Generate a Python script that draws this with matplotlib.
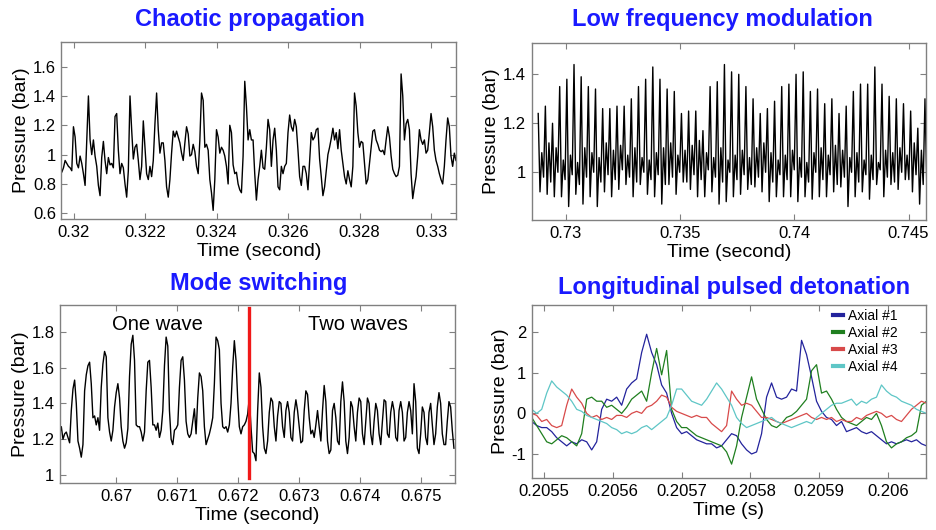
import numpy as np
import matplotlib
matplotlib.use("Agg")
import matplotlib.pyplot as plt
from matplotlib.ticker import FormatStrFormatter

plt.rcParams['font.family'] = ['Liberation Sans', 'DejaVu Sans']

# --- Chaotic propagation: pressure samples (bar) ---
p1_a = [0.94, 0.88, 0.91, 0.96, 0.94, 0.92, 0.91, 0.89, 1.19, 1.12,
        0.94, 0.91, 0.99, 0.94, 0.87, 0.79, 1.10, 1.40, 1.10, 1.00,
        1.10, 0.99, 0.92, 0.79, 0.72, 0.98, 1.09, 0.96, 0.87, 0.98,
        0.93, 0.94, 0.91, 1.26, 1.28, 1.03, 0.87, 0.94, 0.91, 0.80,
        0.71, 0.89, 1.40, 1.17, 0.97, 1.05, 1.07, 0.96, 0.83, 0.92,
        1.23, 1.05, 0.87, 0.83, 0.92, 0.85, 0.96, 1.21, 1.42, 1.17,
        1.01, 1.08, 1.08, 0.96, 0.78, 0.71, 0.83, 1.01, 1.16, 1.12,
        1.16, 1.12, 1.08, 1.01, 0.96, 1.08, 1.19, 1.14, 0.99, 1.00,
        1.07, 1.02, 0.92, 0.87, 1.10, 1.42, 1.37, 1.05, 1.07, 1.03,
        0.83, 0.74, 0.62, 0.83, 1.17, 1.12, 1.01, 1.05, 1.03, 0.99,
        0.92, 0.80, 1.20, 1.15, 0.93, 0.87, 0.88, 0.80, 0.76, 0.74,
        0.99, 1.50, 1.33, 1.10, 1.17, 1.10, 1.10, 0.87]
p1_b = [0.69, 0.83, 0.92, 1.03, 0.91, 0.90, 1.05, 1.24, 1.17, 0.92,
        1.10, 1.18, 1.03, 0.78, 0.76, 0.92, 0.87, 0.92, 0.94, 1.15,
        1.27, 1.19, 1.16, 1.24, 1.19, 1.03, 0.85, 0.79, 0.92, 0.92,
        0.87, 0.76, 0.96, 1.15, 1.10, 1.12, 1.17, 1.18, 0.97, 0.85,
        0.72, 0.78, 0.89, 1.00, 1.05, 1.11, 1.18, 1.10, 1.15, 1.04,
        1.17, 1.03, 0.94, 0.85, 0.80, 0.89, 0.83, 0.78, 0.92, 1.42,
        1.33, 1.15, 1.05, 1.09, 1.08, 0.94, 0.80, 0.83, 0.94, 1.05,
        1.16, 1.17, 1.10, 1.07, 1.03, 1.02, 1.03, 1.00, 1.10, 1.19,
        1.12, 0.99, 0.90, 0.87, 0.85, 0.86, 0.92, 1.55, 1.40, 1.10,
        1.21, 1.24, 1.17, 0.87, 0.70, 0.78, 0.85, 0.99, 1.17, 1.10,
        1.07, 1.10, 1.01, 1.03, 1.15, 1.28, 1.19, 1.03, 0.96, 0.92,
        0.87, 0.83, 0.80, 0.92, 1.10, 1.25, 1.19, 0.99, 0.92, 1.01,
        0.96]
t1_start, t1_end = 0.319622, 0.330699

# --- Low frequency modulation: one spike per cycle ---
p2_peak = [1.24, 1.27, 1.20, 1.35, 1.38, 1.44, 1.39, 1.35, 1.34, 1.26,
           1.26, 1.27, 1.27, 1.30, 1.35, 1.38, 1.43, 1.38, 1.34, 1.33,
           1.24, 1.25, 1.25, 1.17, 1.35, 1.37, 1.44,
           1.41, 1.40, 1.35, 1.30, 1.24, 1.26, 1.29, 1.35, 1.36, 1.40,
           1.41, 1.33, 1.34, 1.28, 1.30, 1.24, 1.27, 1.33, 1.36, 1.36,
           1.43, 1.36, 1.31, 1.30, 1.28, 1.25, 1.18, 1.30]
p2_trough = [0.92, 0.91, 0.90, 0.90, 0.86, 0.91, 0.87, 0.90, 0.86, 0.92,
             0.90, 0.93, 0.95, 0.90, 0.95, 0.91, 0.90, 0.87, 0.95, 0.91,
             0.96, 0.93, 0.90, 0.90, 0.92, 0.87, 0.88,
             0.90, 0.91, 0.93, 0.94, 0.92, 0.88, 0.90, 0.90, 0.90, 0.88,
             0.90, 0.89, 0.90, 0.90, 0.92, 0.94, 0.86, 0.90, 0.92, 0.89,
             0.95, 0.90, 0.95, 0.93, 0.97, 0.92, 0.87, 0.95]
p2_bump = [1.08, 1.12, 1.10, 1.05, 1.07, 1.04, 1.10, 1.08, 1.06, 1.12,
           1.09, 1.11, 1.07, 1.10, 1.06, 1.05, 1.08, 1.10, 1.12, 1.07,
           1.09, 1.11, 1.13, 1.08, 1.06, 1.10, 1.05,
           1.07, 1.09, 1.06, 1.10, 1.12, 1.08, 1.05, 1.07, 1.09, 1.06,
           1.04, 1.08, 1.10, 1.07, 1.11, 1.09, 1.06, 1.08, 1.05, 1.07,
           1.04, 1.09, 1.08, 1.10, 1.07, 1.12, 1.09, 1.15]
p2_dip = [0.98, 0.96, 1.00, 0.97, 0.99, 0.95, 0.98, 1.00, 0.96, 0.99,
          0.97, 1.01, 0.98, 0.96, 1.00, 0.97, 0.99, 0.95, 0.98, 1.00,
          0.96, 0.99, 0.97, 1.01, 0.98, 0.96, 1.00,
          0.97, 0.99, 0.95, 0.98, 1.00, 0.96, 0.99, 0.97, 1.01, 0.98,
          0.96, 1.00, 0.97, 0.99, 0.95, 0.98, 1.00, 0.96, 0.99, 0.97,
          1.01, 0.98, 0.96, 1.00, 0.97, 0.99, 0.95, 0.98]
t2_start, t2_end = 0.728787, 0.745951

# --- Mode switching ---
p3_a = [1.28, 1.23, 1.27, 1.20, 1.23, 1.24, 1.21, 1.18, 1.36, 1.48,
        1.53, 1.40, 1.19, 1.15, 1.10, 1.17, 1.47, 1.56, 1.61, 1.63,
        1.51, 1.32, 1.33, 1.28, 1.32, 1.25, 1.49, 1.62, 1.69, 1.66,
        1.32, 1.24, 1.19, 1.25, 1.38, 1.46, 1.51, 1.43, 1.27, 1.19,
        1.15, 1.18, 1.26, 1.55, 1.73, 1.78, 1.64, 1.28, 1.27, 1.27,
        1.24, 1.19, 1.24, 1.47, 1.63, 1.64, 1.49, 1.28, 1.28, 1.25,
        1.29, 1.21, 1.25, 1.36, 1.61, 1.77, 1.72, 1.36, 1.20, 1.17,
        1.25, 1.26, 1.28, 1.49, 1.64, 1.66, 1.53, 1.30, 1.23, 1.21,
        1.23, 1.30, 1.37, 1.23, 1.43, 1.57, 1.55, 1.47, 1.27, 1.17,
        1.20, 1.23, 1.27, 1.32, 1.51, 1.77, 1.75, 1.70, 1.40, 1.27,
        1.26, 1.27, 1.24, 1.28, 1.40, 1.60, 1.75, 1.64, 1.43, 1.27,
        1.23, 1.27, 1.28, 1.30, 1.34, 1.43, 1.27, 1.13]
p3_b = [1.12, 1.08, 1.36, 1.57, 1.49, 1.27, 1.15, 1.12, 1.19, 1.35,
        1.43, 1.41, 1.27, 1.19, 1.33, 1.41, 1.40, 1.27, 1.21, 1.36,
        1.41, 1.35, 1.21, 1.19, 1.35, 1.42, 1.36, 1.27, 1.18, 1.19,
        1.36, 1.47, 1.45, 1.32, 1.23, 1.25, 1.21, 1.28, 1.36, 1.27,
        1.19, 1.36, 1.50, 1.41, 1.19, 1.12, 1.14, 1.36, 1.40, 1.32,
        1.19, 1.17, 1.41, 1.52, 1.41, 1.19, 1.12, 1.21, 1.41, 1.38,
        1.27, 1.19, 1.35, 1.43, 1.41, 1.23, 1.17, 1.30, 1.43, 1.40,
        1.23, 1.17, 1.30, 1.40, 1.36, 1.23, 1.17, 1.30, 1.42, 1.41,
        1.23, 1.21, 1.35, 1.41, 1.36, 1.21, 1.19, 1.36, 1.41, 1.35,
        1.19, 1.21, 1.35, 1.41, 1.36, 1.23, 1.51, 1.41, 1.15, 1.12,
        1.23, 1.38, 1.35, 1.21, 1.17, 1.35, 1.40, 1.28, 1.17, 1.23,
        1.38, 1.46, 1.40, 1.23, 1.17, 1.17, 1.30, 1.41, 1.38, 1.25,
        1.15]
t3_start, t3_end = 0.669040, 0.675538
switch_time = 0.672174

# --- Longitudinal pulsed detonation (4 axial probes) ---
axial1 = [-0.2, -0.3, -0.35, -0.35, -0.45, -0.6, -0.7, -0.8, -0.7, -0.75,
          -0.65, -0.7, -0.9, -0.7, 0.1, 0.35, 0.3, 0.4, 0.2, 0.6,
          0.75, 0.85, 1.5, 1.95, 1.5, 1.2, 0.7, 0.5, 0.0, -0.35,
          -0.5, -0.45, -0.55, -0.65, -0.7, -0.75, -0.75, -0.85, -0.8, -0.65,
          -0.5, -0.55, -0.75, -0.9, -1.0, -0.95, -0.5, 0.4, 0.75, 0.4,
          0.35, 0.4, 0.6, 0.55, 1.8, 1.45, 0.9, 0.3, 0.05, -0.1,
          -0.15, -0.3, -0.2, -0.45, -0.4, -0.35, -0.45, -0.5, -0.45, -0.55,
          -0.65, -0.75, -0.7, -0.75, -0.7, -0.65, -0.7, -0.65, -0.75, -0.8]
axial2 = [-0.1, -0.3, -0.5, -0.7, -0.75, -0.65, -0.55, -0.6, -0.7, -0.8,
          -0.5, 0.35, 0.4, 0.3, 0.3, 0.15, 0.2, 0.1, 0.0, 0.15,
          0.35, 0.45, 0.55, 0.3, 1.0, 1.6, 0.95, 1.55, 0.1, -0.2,
          -0.35, -0.35, -0.45, -0.55, -0.6, -0.65, -0.7, -0.75, -0.8, -0.95,
          -1.25, -0.8, -0.1, 0.4, 0.9, 0.35, 0.1, -0.15, -0.3, -0.35,
          -0.25, -0.1, -0.05, 0.05, 0.2, 0.35, 1.05, 1.2, 0.5, 0.55,
          0.35, 0.1, -0.1, -0.2, -0.25, -0.3, -0.2, -0.1, -0.15, 0.0,
          -0.3, -0.7, -0.85, -0.75, -0.7, -0.6, -0.55, -0.45, 0.2, 0.3]
axial3 = [0.0, -0.05, -0.2, -0.15, -0.3, -0.35, -0.3, 0.2, 0.6, 0.4,
          0.25, 0.0, -0.1, -0.05, -0.15, -0.1, -0.15, -0.05, -0.05, -0.1,
          0.0, 0.05, 0.0, 0.15, 0.2, 0.3, 0.45, 0.4, 0.15, 0.05,
          0.0, -0.05, -0.1, -0.05, -0.1, -0.1, -0.25, -0.35, -0.45, -0.3,
          0.55, 0.35, 0.2, 0.25, 0.2, 0.05, -0.1, -0.1, -0.15, -0.2,
          -0.25, -0.2, -0.15, -0.1, -0.05, 0.0, -0.1, -0.15, -0.1, -0.15,
          -0.1, -0.2, -0.15, -0.2, -0.2, -0.1, -0.15, -0.05, 0.0, 0.05,
          0.0, -0.1, -0.05, -0.15, -0.2, -0.05, 0.1, 0.2, 0.3, 0.25]
axial4 = [0.1, 0.0, 0.1, 0.5, 0.8, 0.65, 0.55, 0.45, 0.3, 0.1,
          0.05, -0.05, -0.1, -0.15, -0.2, -0.25, -0.35, -0.4, -0.5, -0.45,
          -0.5, -0.45, -0.35, -0.3, -0.4, -0.3, -0.2, -0.1, 0.2, 0.6,
          0.6, 0.45, 0.3, 0.25, 0.2, 0.35, 0.55, 0.75, 0.6, 0.4,
          0.2, -0.1, -0.25, -0.35, -0.3, -0.25, -0.2, -0.15, -0.1, -0.2,
          -0.25, -0.3, -0.35, -0.3, -0.25, -0.2, -0.25, -0.1, 0.0, 0.1,
          0.2, 0.25, 0.25, 0.3, 0.35, 0.2, 0.3, 0.25, 0.35, 0.4,
          0.7, 0.55, 0.45, 0.4, 0.3, 0.25, 0.2, 0.1, 0.05, 0.0]
t4_start, t4_end = 0.2054821, 0.2060557
axial_labels = ['Axial #1', 'Axial #2', 'Axial #3', 'Axial #4']
axial_colors = ['#23239c', '#1f7f1f', '#d84a4a', '#5ec6c6']

TITLE_BLUE = '#1a1aff'
GRID_GREY = '#808080'


def style_axes(ax, xticks, yticks):
    ax.set_xticks(xticks)
    ax.set_yticks(yticks)
    ax.xaxis.set_major_formatter(FormatStrFormatter('%g'))
    ax.yaxis.set_major_formatter(FormatStrFormatter('%g'))
    ax.tick_params(direction='in', top=True, right=True, length=4,
                   width=0.8, color=GRID_GREY, labelsize=12, pad=4)
    for s in ax.spines.values():
        s.set_color(GRID_GREY)
        s.set_linewidth(1)
    ax.set_ylabel('Pressure (bar)', fontsize=14, labelpad=2)


fig = plt.figure(figsize=(9.36, 5.30), dpi=100)

# panel 1
ax1 = fig.add_axes([0.0657, 0.5868, 0.4215, 0.334])
p1 = np.array(p1_a + p1_b)
t1 = np.linspace(t1_start, t1_end, len(p1))
ax1.plot(t1, p1, color='black', lw=1.0)
ax1.set_xlim(0.31966, 0.3307)
ax1.set_ylim(0.561, 1.768)
style_axes(ax1, [0.32, 0.322, 0.324, 0.326, 0.328, 0.33],
           [0.6, 0.8, 1.0, 1.2, 1.4, 1.6])
ax1.set_xlabel('Time (second)', fontsize=14, labelpad=2.5)

# panel 2
ax2 = fig.add_axes([0.568, 0.5849, 0.4213, 0.334])
p2 = np.column_stack([p2_peak, p2_trough, p2_bump, p2_dip]).ravel()
t2 = np.linspace(t2_start, t2_end, len(p2))
ax2.plot(t2, p2, color='black', lw=1.0)
ax2.set_xlim(0.7285, 0.74576)
ax2.set_ylim(0.805, 1.528)
style_axes(ax2, [0.73, 0.735, 0.74, 0.745], [1.0, 1.2, 1.4])
ax2.set_xlabel('Time (second)', fontsize=14, labelpad=2.5)

# panel 3
ax3 = fig.add_axes([0.0641, 0.0881, 0.422, 0.3364])
p3 = np.array(p3_a + p3_b)
t3 = np.linspace(t3_start, t3_end, len(p3))
ax3.plot(t3, p3, color='black', lw=1.0)
ax3.axvline(switch_time, ymin=0.03, ymax=0.985, color='#f01818', lw=2.4)
ax3.set_xlim(0.669073, 0.675555)
ax3.set_ylim(0.954, 1.949)
style_axes(ax3, [0.67, 0.671, 0.672, 0.673, 0.674, 0.675],
           [1.0, 1.2, 1.4, 1.6, 1.8])
ax3.set_xlabel('Time (second)', fontsize=14, labelpad=2.5)
ax3.text(0.670665, 1.81, 'One wave', fontsize=14.5, ha='center', va='baseline')
ax3.text(0.673963, 1.81, 'Two waves', fontsize=14.5, ha='center', va='baseline')

# panel 4
ax4 = fig.add_axes([0.568, 0.0975, 0.4213, 0.327])
t4 = np.linspace(t4_start, t4_end, len(axial1))
for vals, lab, col in zip([axial1, axial2, axial3, axial4], axial_labels, axial_colors):
    ax4.plot(t4, vals, color=col, lw=0.9, label=lab)
ax4.set_xlim(0.205482, 0.206055)
ax4.set_ylim(-1.6, 2.67)
style_axes(ax4, [0.2055, 0.2056, 0.2057, 0.2058, 0.2059, 0.206], [-1, 0, 1, 2])
ax4.set_xlabel('Time (s)', fontsize=14, labelpad=2.5)
leg = ax4.legend(loc='upper left', bbox_to_anchor=(0.765, 0.975), frameon=False,
                 fontsize=10, handlelength=0.7, handletextpad=0.35,
                 labelspacing=0.2, borderpad=0, borderaxespad=0)
for h in leg.legend_handles:
    h.set_linewidth(3)

# titles
fig.text(250 / 936, 1 - 26 / 530, 'Chaotic propagation', color=TITLE_BLUE,
         fontsize=17, fontweight='bold', ha='center', va='baseline')
fig.text(722 / 936, 1 - 26 / 530, 'Low frequency modulation', color=TITLE_BLUE,
         fontsize=17, fontweight='bold', ha='center', va='baseline')
fig.text(259 / 936, 1 - 290 / 530, 'Mode switching', color=TITLE_BLUE,
         fontsize=17, fontweight='bold', ha='center', va='baseline')
fig.text(734 / 936, 1 - 294 / 530, 'Longitudinal pulsed detonation', color=TITLE_BLUE,
         fontsize=17, fontweight='bold', ha='center', va='baseline')

fig.savefig('out.png', dpi=100)
